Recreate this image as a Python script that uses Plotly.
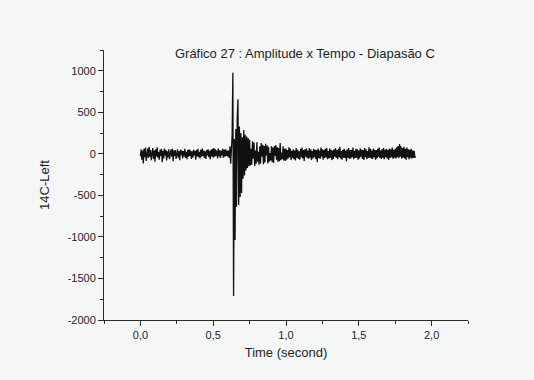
import numpy as np
import plotly.graph_objects as go

# ---- data ----
sample_interval = 0.005  # seconds between samples
start_time = 0.0

pre_onset = [
    -30, 55, -70, 40, -115, 60, -40, 75, -85, 25,
    65, -50, 85, -35, 45, -75, 15, 70, -60, 40,
    -95, 55, -30, 80, -45, 20, -70, 50, -25, 60,
    -100, 35, -55, 65, -20, 45, -80, 30, -40, 55,
    -65, 25, 50, -35, 60, -90, 40, -25, 45, -60,
    20, 55, -45, 30, -75, 50, -15, 40, -55, 35,
    -30, 60, -50, 25, -65, 45, -35, 55, -25, 40,
    -60, 30, -45, 50, -20, 35, -70, 45, -30, 60,
    -40, 25, -55, 50, -35, 65, -25, 40, -50, 30,
    -60, 45, -20, 55, -40, 35, -65, 50, -30, 60,
    -45, 70, -35, 55, -25, 40, -55, 65, -30, 45,
    -50, 35, -20, 60, -45, 50, -35, 55, -25, 40,
    -30,
]

attack = [
    40, -50, 90, -120, 160, 220, 976, -1711, 180, -1037,
    300, -636, 420, 656, -616, 330, -520, 250, -472, 200,
    -300, 286, -260, 230, -200, 210, -170, 190, -150,
]

decay = [
    170, -140, 60, -130, 150, -60, 135, -145, 40, -120,
    140, -95, 25, -130, 90, -115, 130, -30, 110, -125,
    95, -105, 120, -20, 100, -115, 85, -95, 10, -80,
    90, -100, 75, -110, 95, -25, 105, -70, 80, -95,
    70, -90, 130, -75, 15, -65, 90, -80, 60, -85,
]

tail = [
    65, -70, 45, -55, 80, -40, 60, -75, 35, -50,
    55, -65, 40, -80, 70, -45, 50, -60, 30, -70,
    60, -40, 75, -55, 45, -85, 55, -35, 65, -50,
    40, -60, 70, -45, 55, -75, 35, -55, 60, -40,
    50, -65, 45, -100, 65, -50, 40, -60, 75, -35,
    55, -70, 45, -50, 60, -40, 70, -65, 35, -55,
    65, -45, 50, -75, 40, -60, 55, -35, 70, -50,
    45, -65, 60, -40, 85, -55, 35, -70, 50, -45,
    60, -50, 40, -90, 55, -45, 70, -60, 45, -55,
    50, -40, 75, -65, 35, -50, 60, -45, 55, -70,
    40, -55, 65, -35, 50, -60, 45, -75, 70, -40,
    55, -65, 35, -50, 80, -45, 60, -55, 40, -60,
    65, -40, 50, -70, 45, -55, 60, -35, 75, -50,
    40, -60, 55, -45, 70, -65, 50, -40, 60, -55,
    45, -70, 65, -50, 55, -40, 75, -60, 50, -45,
    60, -55, 80, -40, 95, -50, 118, -35, 90, -60,
    70, -45, 85, -55, 60, -70, 75, -40, 55, -65,
    50, -45, 60, -55, 40, -50, 35, -45, -30,
]

x_tick_values = [0.0, 0.5, 1.0, 1.5, 2.0]
x_tick_labels = ["0,0", "0,5", "1,0", "1,5", "2,0"]
y_tick_values = [-2000, -1500, -1000, -500, 0, 500, 1000]
y_tick_labels = ["-2000", "-1500", "-1000", "-500", "0", "500", "1000"]

amplitude = pre_onset + attack + decay + tail
time = start_time + sample_interval * np.arange(len(amplitude))

FONT = "Liberation Sans, Arial, sans-serif"
BG = "#f5f7f7"
AX = "#2a2a2a"
TXT = "#1e1e1e"

fig = go.Figure()
fig.add_trace(go.Scatter(
    x=time, y=amplitude, mode="lines",
    line=dict(color="#111111", width=1.3),
    showlegend=False, hoverinfo="skip",
))

fig.update_layout(
    width=534, height=380,
    paper_bgcolor=BG, plot_bgcolor=BG,
    margin=dict(l=104, r=66, t=50, b=60),
    font=dict(family=FONT, color=TXT, size=11),
    title=dict(
        text="Gráfico 27 : Amplitude x Tempo - Diapasão C",
        x=0.571, xref="container", xanchor="center",
        y=1 - 53 / 380, yref="container", yanchor="middle",
        font=dict(family=FONT, size=13, color=TXT),
    ),
)

fig.update_xaxes(
    range=[-0.25, 2.25], showgrid=False, zeroline=False,
    showline=True, linecolor=AX, linewidth=1,
    tickmode="array", tickvals=x_tick_values, ticktext=x_tick_labels,
    ticks="outside", ticklen=5, tickcolor=AX, tickwidth=1,
    tickfont=dict(size=11, family=FONT, color=TXT),
    minor=dict(tickmode="linear", tick0=-0.25, dtick=0.25, ticks="outside",
               ticklen=3, tickcolor=AX, showgrid=False),
    title=dict(text="Time (second)", font=dict(size=13, family=FONT, color=TXT),
               standoff=7),
)
fig.update_yaxes(
    range=[-2000, 1250], showgrid=False, zeroline=False,
    showline=True, linecolor=AX, linewidth=1,
    tickmode="array", tickvals=y_tick_values, ticktext=y_tick_labels,
    ticks="outside", ticklen=5, tickcolor=AX, tickwidth=1,
    tickfont=dict(size=11, family=FONT, color=TXT),
    minor=dict(tickmode="linear", tick0=0, dtick=250, ticks="outside",
               ticklen=3, tickcolor=AX, showgrid=False),
    title=dict(text="14C-Left", font=dict(size=13, family=FONT, color=TXT),
               standoff=15),
)

fig.write_html("out.html")
